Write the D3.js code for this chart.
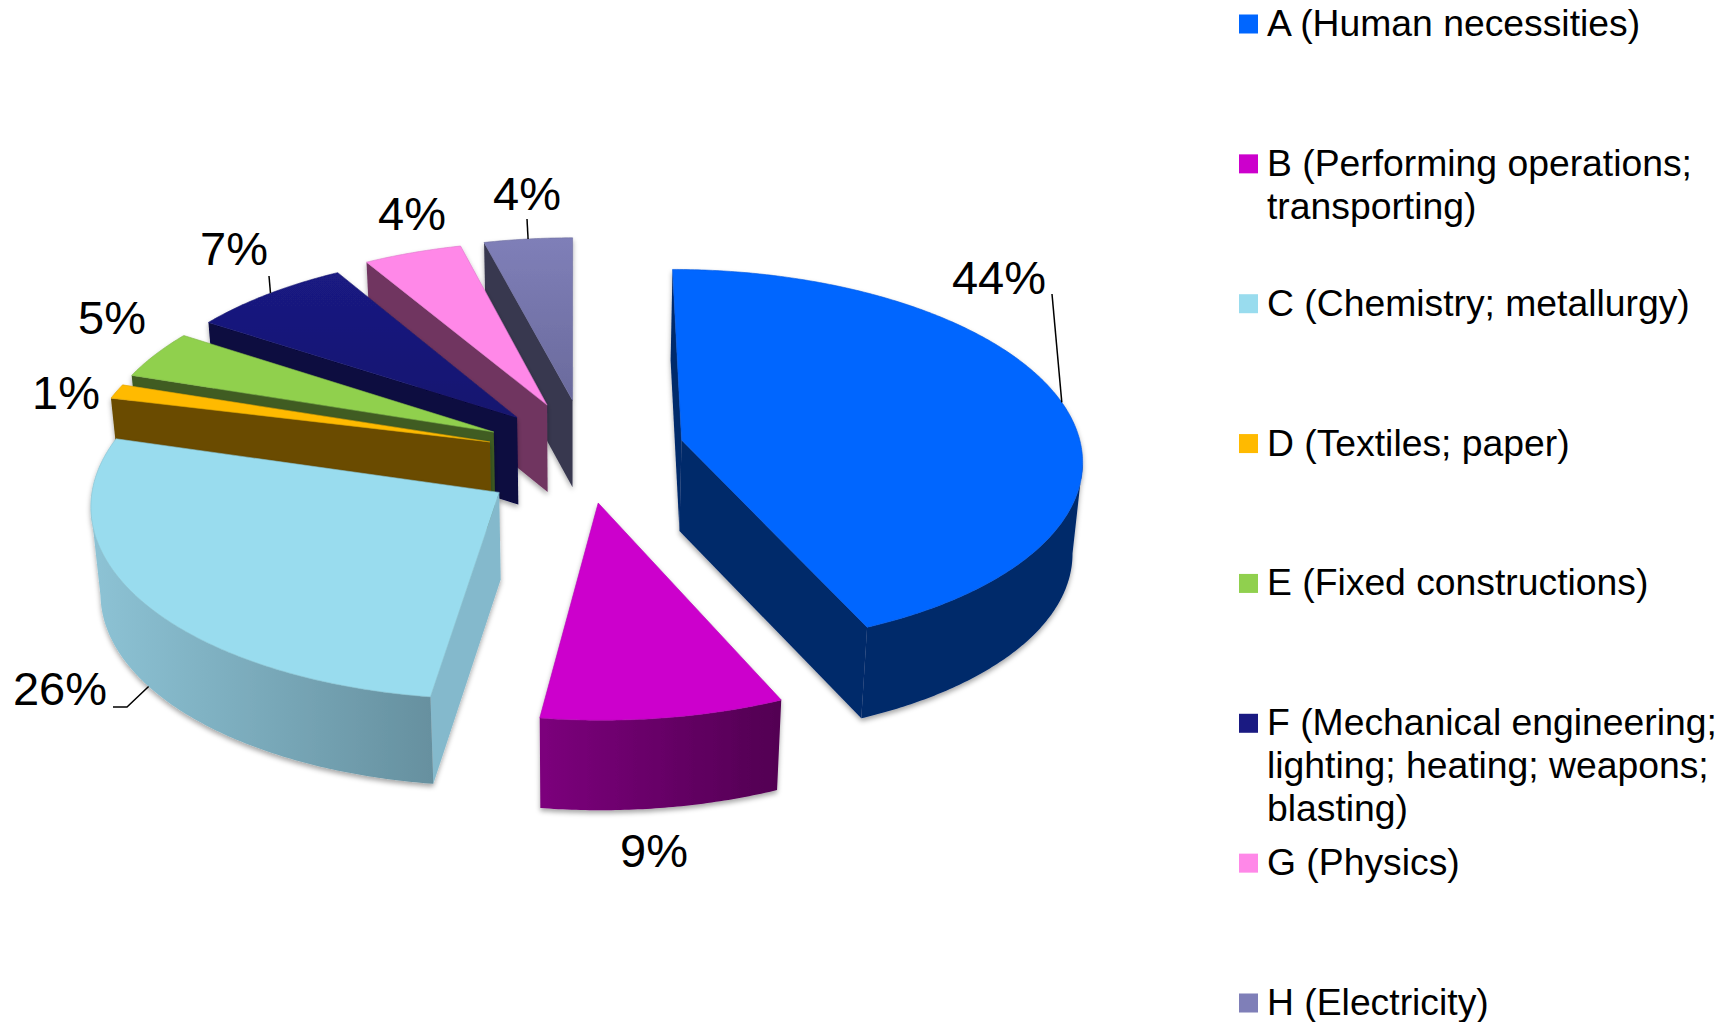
<!DOCTYPE html>
<html>
<head>
<meta charset="utf-8">
<script src="https://cdnjs.cloudflare.com/ajax/libs/d3/7.8.5/d3.min.js"></script>
<style>
    body { margin: 0; background: #fff; }
    text { font-family: "Liberation Sans", Arial, sans-serif; fill: #000; }
</style>
</head>
<body>
<div id="visualization"></div>
<script>
var keys = ["A", "B", "C", "D", "E", "F", "G", "H"];
// slice sizes as drawn; the printed percentages are below
var values = [43.4, 8.77, 26.7, 1.25, 4.16, 7.27, 4.45, 4.0];
var percentLabels = ["44%", "9%", "26%", "1%", "5%", "7%", "4%", "4%"];
var legendLines = [
    ["A (Human necessities)"],
    ["B (Performing operations;", "transporting)"],
    ["C (Chemistry; metallurgy)"],
    ["D (Textiles; paper)"],
    ["E (Fixed constructions)"],
    ["F (Mechanical engineering;", "lighting; heating; weapons;", "blasting)"],
    ["G (Physics)"],
    ["H (Electricity)"]
];
var topColors = ["#0066ff", "#cc00cc", "#99dcee", "#ffba00", "#90d04e", "#1a1a82", "#ff88e8", "#7f7fb8"];
var topLowColors = ["#0066ff", "#cc00cc", "#99dcee", "#ffba00", "#90d04e", "#16166f", "#ff88e8", "#6a6a9c"];
var radialColors = ["#00296b", "#5f005f", "#84b9cc", "#6b4c00", "#3f5c22", "#07073f", "#703660", "#383850"];
var wallLeft = ["#00296b", "#7c007c", "#8dc3d5", "#6b4c00", "#3f5c22", "#07073f", "#703660", "#383850"];
var wallRight = ["#00296b", "#520052", "#66909f", "#6b4c00", "#3f5c22", "#07073f", "#703660", "#383850"];

// how far each slice is pulled out, in pie radii, plus a small hand shift in px
var explode = [0.23, 0.21, 0.265, 0.27, 0.27, 0.28, 0.30, 0.33];
var shiftX = [2, -4, -2, -1, 0, 3, 2, -1];
var shiftY = [-9, 5, -2, -2, -4, -3, -2, 2];
var apexDropX = [0, 0, 0, 4, 0, 0, 0, 0];
var apexDropY = [0, 0, 8, 0, 0, 0, 0, 0];
var depths = [91, 90, 87, 87, 87, 87, 87, 87];

var pieCenter = {x: 590, y: 458};
var rx = 400, ry = 188.5;
var vanishX = 575, perspective = 0.095, bottomShrink = 0.02;

var svg = d3.select("#visualization").append("svg")
    .attr("width", 1733)
    .attr("height", 1022);

var defs = svg.append("defs");
var shadow = defs.append("filter").attr("id", "shadow")
    .attr("x", "-10%").attr("y", "-10%").attr("width", "120%").attr("height", "120%");
shadow.append("feDropShadow")
    .attr("dx", 0).attr("dy", 3).attr("stdDeviation", 2.5)
    .attr("flood-color", "#000").attr("flood-opacity", 0.35);

// plane coords: u to the right, v towards the viewer, z 0 = top face, 1 = bottom
function project(u, v, z, depth) {
    var s = 1 / (1 - perspective * v) * (1 - bottomShrink * z);
    return [
        vanishX + (pieCenter.x + rx * u - vanishX) * s,
        pieCenter.y + ry * v / (1 - perspective * v) + depth * z
    ];
}

var line = d3.line();
var pie = d3.pie().sort(null).value(function(d) { return d; });
var slices = pie(values);

slices.forEach(function(d, i) {
    var mid = (d.startAngle + d.endAngle) / 2;
    var u0 = explode[i] * Math.sin(mid);
    var v0 = -explode[i] * Math.cos(mid);
    function moved(p) { return [p[0] + shiftX[i], p[1] + shiftY[i]]; }
    d.at = function(a, z) {
        return moved(project(u0 + Math.sin(a), v0 - Math.cos(a), z, depths[i]));
    };
    d.apex = function(z) {
        var p = moved(project(u0, v0, z, depths[i]));
        return [p[0] + apexDropX[i], p[1] + apexDropY[i]];
    };
    d.arcAngles = d3.range(d.startAngle, d.endAngle, 0.01).concat([d.endAngle]);
});

// back slices first, the front ones cover them
var drawOrder = [7, 6, 5, 4, 3, 2, 1, 0];

drawOrder.forEach(function(i) {
    var d = slices[i];
    var g = svg.append("g").attr("class", "slice slice-" + keys[i]).attr("filter", "url(#shadow)");

    var grad = defs.append("linearGradient").attr("id", "wall" + keys[i]);
    grad.append("stop").attr("offset", "0%").attr("stop-color", wallLeft[i]);
    grad.append("stop").attr("offset", "100%").attr("stop-color", wallRight[i]);

    var topGrad = defs.append("linearGradient").attr("id", "top" + keys[i])
        .attr("x1", 0).attr("y1", 0).attr("x2", 0).attr("y2", 1);
    topGrad.append("stop").attr("offset", "0%").attr("stop-color", topColors[i]);
    topGrad.append("stop").attr("offset", "100%").attr("stop-color", topLowColors[i]);

    // radial walls, only when the edge faces the viewer
    [d.startAngle, d.endAngle].forEach(function(a, n) {
        var first = n === 0 ? d.apex(0) : d.at(a, 0);
        var second = n === 0 ? d.at(a, 0) : d.apex(0);
        if (second[0] >= first[0]) return;
        var firstLow = n === 0 ? d.apex(1) : d.at(a, 1);
        var secondLow = n === 0 ? d.at(a, 1) : d.apex(1);
        g.append("path")
            .attr("d", line([first, second, secondLow, firstLow]) + "Z")
            .attr("fill", radialColors[i]);
    });

    // outer wall, front half of the arc only
    var front = d.arcAngles.filter(function(a) {
        return d.at(a + 0.01, 0)[0] < d.at(a, 0)[0];
    });
    if (front.length > 1) {
        var upper = front.map(function(a) { return d.at(a, 0); });
        var lower = front.map(function(a) { return d.at(a, 1); }).reverse();
        g.append("path")
            .attr("d", line(upper.concat(lower)) + "Z")
            .attr("fill", "url(#wall" + keys[i] + ")");
    }

    var outline = [d.apex(0)].concat(d.arcAngles.map(function(a) { return d.at(a, 0); }));
    g.append("path")
        .attr("d", line(outline) + "Z")
        .attr("fill", "url(#top" + keys[i] + ")")
        .attr("stroke", d3.color(topColors[i]).darker(0.4))
        .attr("stroke-width", 0.6);
});

// data labels, placed by hand in the original
var labelPos = [[999, 294], [654, 867], [60, 705], [66, 409], [112, 334], [234, 265], [412, 230], [527, 210]];
svg.append("g").attr("class", "labels").selectAll("text")
    .data(percentLabels)
    .enter().append("text")
    .attr("x", function(d, i) { return labelPos[i][0]; })
    .attr("y", function(d, i) { return labelPos[i][1]; })
    .attr("text-anchor", "middle")
    .attr("font-size", 47)
    .text(function(d) { return d; });

// leader lines: slice index, where on the slice's arc (0-1), then the points towards the label
var leaders = [
    {slice: 0, along: 0.5, points: [[1052, 294]]},
    {slice: 2, along: 0.5, z: 1, points: [[127, 707], [113, 707]]},
    {slice: 5, along: 0.52, points: [[269, 276]]},
    {slice: 7, along: 0.5, points: [[527, 219]]}
];
leaders.forEach(function(l) {
    var d = slices[l.slice];
    var a = d.startAngle + (d.endAngle - d.startAngle) * l.along;
    svg.append("path")
        .attr("d", line([d.at(a, l.z || 0)].concat(l.points)))
        .attr("fill", "none")
        .attr("stroke", "#000")
        .attr("stroke-width", 1.5);
});

// legend
var legendY = d3.scalePoint().domain(keys).range([24, 1003]);
var legend = svg.append("g").attr("class", "legend").selectAll("g")
    .data(keys)
    .enter().append("g")
    .attr("transform", function(d) { return "translate(1239," + legendY(d) + ")"; });

legend.append("rect")
    .attr("y", -9.5)
    .attr("width", 19)
    .attr("height", 19)
    .attr("fill", function(d, i) { return topColors[i]; });

legend.append("text")
    .attr("font-size", 37.3)
    .selectAll("tspan")
    .data(function(d, i) { return legendLines[i]; })
    .enter().append("tspan")
    .attr("x", 28)
    .attr("y", function(d, i) { return 12 + i * 43; })
    .text(function(d) { return d; });
</script>
</body>
</html>
